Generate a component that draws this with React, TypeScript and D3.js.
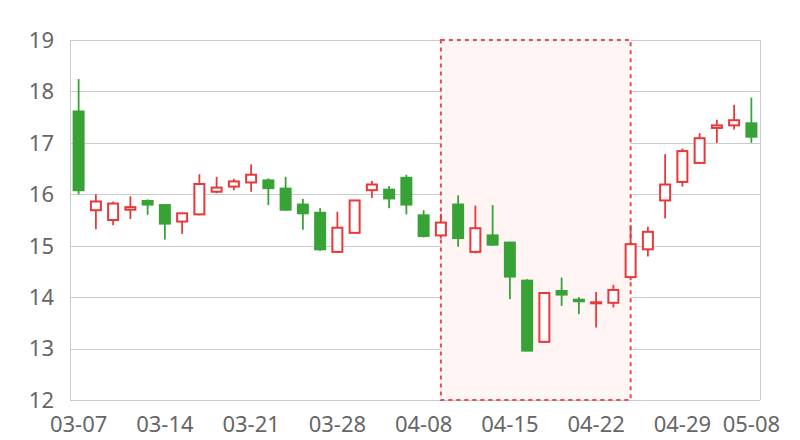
import React from "react";
import * as d3 from "d3";

const dates = [
  "03-07","03-08","03-11","03-12","03-13","03-14","03-15","03-18","03-19","03-20",
  "03-21","03-22","03-25","03-26","03-27","03-28","03-29","04-01","04-02","04-03",
  "04-08","04-09","04-10","04-11","04-12","04-15","04-16","04-17","04-18","04-19",
  "04-22","04-23","04-24","04-25","04-26","04-29","04-30","05-06","05-07","05-08",
];
const openV = [17.62,15.69,15.5,15.7,15.88,15.8,15.47,15.61,16.05,16.15,
  16.23,16.28,16.12,15.81,15.65,14.88,15.25,16.08,16.1,16.33,
  15.6,15.2,15.81,14.88,15.21,15.07,14.33,13.13,14.13,13.96,
  13.88,13.89,14.39,14.93,15.88,16.24,16.61,17.29,17.34,17.39];
const closeV = [16.07,15.86,15.82,15.75,15.79,15.42,15.63,16.2,16.13,16.25,
  16.38,16.11,15.69,15.62,14.92,15.35,15.88,16.19,15.91,15.79,
  15.18,15.45,15.14,15.34,15.01,14.39,12.95,14.08,14.04,13.91,
  13.9,14.14,15.03,15.27,16.19,16.84,17.09,17.34,17.44,17.11];
const highV = [18.24,16.0,15.86,15.96,15.9,15.8,15.63,16.39,16.34,16.3,
  16.58,16.31,16.34,15.91,15.73,15.66,15.88,16.26,16.16,16.38,
  15.69,15.62,15.98,15.78,15.79,15.08,14.35,14.1,14.38,14.0,
  14.1,14.24,15.4,15.37,16.78,16.89,17.19,17.45,17.74,17.88];
const lowV = [16.0,15.32,15.4,15.52,15.6,15.12,15.23,15.59,16.02,16.08,
  16.05,15.79,15.68,15.31,14.9,14.86,15.25,15.93,15.73,15.61,
  15.16,15.14,14.98,14.85,15.0,13.96,12.95,13.12,13.83,13.67,
  13.41,13.8,14.33,14.79,15.53,16.15,16.6,17.0,17.26,17.0];
const yTicks = [12,13,14,15,16,17,18,19];
const xLabels = ["03-07","03-14","03-21","03-28","04-08","04-15","04-22","04-29","05-08"];
const areaFrom = "04-09";
const areaTo = "04-24";

const W = 800, H = 440;
const M = { left: 70, right: 40, top: 40, bottom: 40 };
const UP = "#e8383a";
const DOWN = "#37a337";
const FONT = "'Noto Sans', 'DejaVu Sans', sans-serif";

export default function App() {
  const x = d3.scaleBand<string>().domain(dates).range([M.left, W - M.right]).padding(0);
  const y = d3.scaleLinear().domain([12, 19]).range([H - M.bottom, M.top]);
  const bw = 12;
  const cx = (d: string) => (x(d) as number) + x.bandwidth() / 2;
  const ax0 = cx(areaFrom), ax1 = cx(areaTo);

  return (
    <svg width={W} height={H} style={{ display: "block", position: "absolute", left: 0, top: 0 }}>
      <rect x={0} y={0} width={W} height={H} fill="#fff" />
      {yTicks.map((t) => (
        <line key={t} x1={M.left} x2={W - M.right} y1={Math.round(y(t)) + 0.5} y2={Math.round(y(t)) + 0.5} stroke="#cccccc" strokeWidth={1} />
      ))}
      <line x1={M.left + 0.5} x2={M.left + 0.5} y1={M.top} y2={H - M.bottom} stroke="#cccccc" />
      <line x1={W - M.right + 0.5} x2={W - M.right + 0.5} y1={M.top} y2={H - M.bottom} stroke="#cccccc" />
      <rect x={ax0} y={y(19)} width={ax1 - ax0} height={y(12) - y(19)} fill="#fff5f5" stroke="#e84a4f" strokeWidth={2} strokeDasharray="4,4" />
      {dates.map((d, i) => {
        const o = openV[i], c = closeV[i], h = highV[i], l = lowV[i];
        const up = c >= o;
        const col = up ? UP : DOWN;
        const top = y(Math.max(o, c)), bot = y(Math.min(o, c));
        const xc = cx(d);
        return (
          <g key={d}>
            <line x1={xc} x2={xc} y1={y(h)} y2={y(l)} stroke={col} strokeWidth={1.8} />
            {up ? (
              <rect x={xc - bw / 2 + 1} y={top} width={bw - 2} height={Math.max(bot - top, 1)} fill="#fff" stroke={col} strokeWidth={2} />
            ) : (
              <rect x={xc - bw / 2} y={top - 0.5} width={bw} height={Math.max(bot - top + 1, 2)} fill={col} />
            )}
          </g>
        );
      })}
      {yTicks.map((t) => (
        <text key={t} x={M.left - 16} y={y(t)} dy="0.36em" textAnchor="end" fontFamily={FONT} fontSize={22} fill="#666">{t}</text>
      ))}
      {xLabels.map((d) => (
        <text key={d} x={cx(d)} y={H - M.bottom + 24} dy="0.36em" textAnchor="middle" fontFamily={FONT} fontSize={22} fill="#666">{d}</text>
      ))}
    </svg>
  );
}
